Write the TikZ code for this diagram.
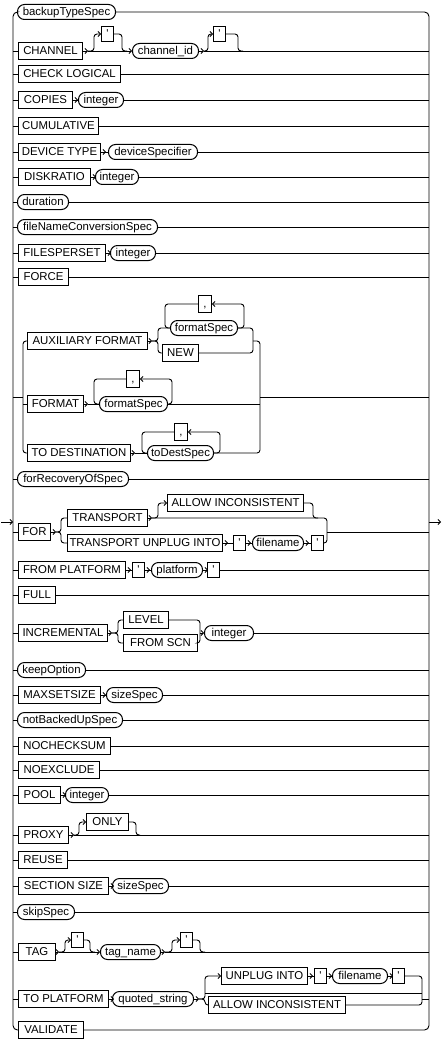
\documentclass[tikz,border=0pt]{standalone}
\usepackage{fontspec}
\newfontfamily\rrfont{Liberation Sans}[Ligatures=ResetAll]
\usetikzlibrary{arrows.meta}
\newcommand\rrf{\rrfont\fontsize{11.4pt}{13pt}\selectfont}
\tikzset{
 ln/.style={line width=0.9pt},
 kw/.style={draw, line width=1pt, minimum height=17pt, inner sep=0pt, anchor=west, font=\rrf, text height=8.2pt, text depth=0.5pt},
 qt/.style={kw, minimum height=15pt, minimum width=12pt},
 cmbox/.style={kw, minimum height=17pt, minimum width=13pt},
 nt/.style={draw, line width=1pt, rounded corners=7pt, minimum height=15pt, inner sep=0pt, anchor=west, font=\rrf, text height=8.2pt, text depth=0.5pt},
 ar/.style={ln, -{Straight Barb[length=2.4pt,width=5pt]}},
 rc/.style={ln, rounded corners=3pt},
 bus/.style={ln, rounded corners=4.5pt},
}
\newcommand\rrto[1]{\draw[ln] (#1.east) -- (#1.east -| RB);}
\newcommand\rrfrom[1]{\draw[ln] (#1.west -| LB) -- (#1.west);}
\newcommand\rrchv[2]{\draw[ln] (#1.east) -- (#2.west); \draw[ar] (#1.east) -- ++(5,0);}
\begin{document}
\begin{tikzpicture}[x=1pt,y=-1pt]
\useasboundingbox (0,0) rectangle (442,1043);
\coordinate (LB) at (13,0);
\coordinate (RB) at (429,0);
\coordinate (start) at (1,522);
\coordinate (finish) at (441,522);
\draw[ar] (start) -- (start -| LB);
\draw[ar] (finish -| RB) -- (finish);

% backupTypeSpec
\node[nt, minimum width=98] (bts) at (17,12) {backupTypeSpec};
% CHANNEL
\node[kw, minimum width=64] (chan) at (18,51) {CHANNEL};
\node[qt] (cq1) at (101,34) {'};
\node[nt, minimum width=66] (chid) at (132,51) {channel\_id};
\node[qt] (cq2) at (213,34) {'};
\coordinate (cj1) at (88,51);
\coordinate (cj2) at (127,51);
\coordinate (cj3) at (204,51);
\coordinate (cj4) at (243,51);
\rrfrom{chan}
\draw[ar] (chan.east) -- (cj1);
\draw[ln] (cj1) -- (cj2);
\draw[ar,rc] (cj1) -| (94,34) -- (cq1.west);
\draw[rc] (cq1.east) -| (122,51) -- (cj2);
\draw[ar] (cj2) -- (chid.west);
\draw[ar] (chid.east) -- (cj3);
\draw[ar,rc] (cj3) -| (208,34) -- (cq2.west);
\draw[rc] (cq2.east) -| (238,51) -- (cj4);
\draw[ln] (cj3) -- (cj3 -| RB);
% CHECK LOGICAL
\node[kw, minimum width=102] (chk) at (18,74) {CHECK LOGICAL};
\rrfrom{chk}\rrto{chk}
% COPIES
\node[kw, minimum width=54] (cop) at (18,100) {COPIES};
\node[nt, minimum width=45] (copi) at (78,100) {integer};
\rrfrom{cop}\rrchv{cop}{copi}\rrto{copi}
% CUMULATIVE
\node[kw, minimum width=80] (cum) at (18,126) {CUMULATIVE};
\rrfrom{cum}\rrto{cum}
% DEVICE TYPE
\node[kw, minimum width=82] (dev) at (18,152) {DEVICE TYPE};
\node[nt, minimum width=89] (devs) at (108,152) {deviceSpecifier};
\rrfrom{dev}\rrchv{dev}{devs}\rrto{devs}
% DISKRATIO
\node[kw, minimum width=72] (dsk) at (18,177) {DISKRATIO};
\node[nt, minimum width=43] (dski) at (95,177) {integer};
\rrfrom{dsk}\rrchv{dsk}{dski}\rrto{dski}
% duration
\node[nt, minimum width=51] (dur) at (17,202) {duration};
\rrfrom{dur}\rrto{dur}
% fileNameConversionSpec
\node[nt, minimum width=140] (fnc) at (17,227) {fileNameConversionSpec};
\rrfrom{fnc}\rrto{fnc}
% FILESPERSET
\node[kw, minimum width=87] (fps) at (18,253) {FILESPERSET};
\node[nt, minimum width=45] (fpsi) at (110,253) {integer};
\rrfrom{fps}\rrchv{fps}{fpsi}\rrto{fpsi}
% FORCE
\node[kw, minimum width=50] (frc) at (18,277) {FORCE};
\rrfrom{frc}\rrto{frc}

% FORMAT group
\node[kw, minimum width=120] (aux) at (27,341) {AUXILIARY FORMAT};
\node[nt, minimum width=67] (afs) at (170,328) {formatSpec};
\node[cmbox] (ac) at (198,304) {,};
\node[kw, minimum width=36] (new) at (162,353) {NEW};
\node[kw, minimum width=56] (fmt) at (27,404) {FORMAT};
\node[nt, minimum width=68] (ffs) at (99,404) {formatSpec};
\node[cmbox] (fc) at (126,379) {,};
\node[kw, minimum width=103] (tod) at (27,453) {TO DESTINATION};
\node[nt, minimum width=66] (tds) at (147,453) {toDestSpec};
\node[cmbox] (tc) at (174,432) {,};
\coordinate (fg) at (23,397);
\coordinate (fgr) at (260,397);
\coordinate (aj) at (152,341);
\coordinate (aj2) at (253,341);
\coordinate (fj) at (88,404);
\coordinate (tj) at (135,453);
\draw[ln] (fg -| LB) -- (fg);
\draw[rc] (aux.west) -| (tod.west -| fg) -- (tod.west);
\draw[ln] (fmt.west -| fg) -- (fmt.west);
\draw[ar] (aux.east) -- (aj);
\draw[rc] (aj) -| (158,328) -- (afs.west);
\draw[rc] (aj) -| (158,353) -- (new.west);
\draw[ar,rc] (afs.east) -| (244,304) -- (ac.east);
\draw[rc] (ac.west) -| (165,328) -- (afs.west);
\draw[rc] (afs.east) -| (253,353) -- (new.east);
\draw[rc] (aj2) -| (tds.east -| fgr) -- (tds.east);
\draw[ar] (fmt.east) -- (fj);
\draw[ln] (fj) -- (ffs.west);
\draw[ar,rc] (ffs.east) -| (172,379) -- (fc.east);
\draw[rc] (fc.west) -| (94,404) -- (ffs.west);
\draw[ln] (ffs.east) -- (ffs.east -| fgr);
\draw[ln] (fgr) -- (fgr -| RB);
\draw[ar] (tod.east) -- (tj);
\draw[ln] (tj) -- (tds.west);
\draw[ar,rc] (tds.east) -| (220,432) -- (tc.east);
\draw[rc] (tc.west) -| (142,453) -- (tds.west);

% forRecoveryOfSpec
\node[nt, minimum width=111] (frs) at (17,479) {forRecoveryOfSpec};
\rrfrom{frs}\rrto{frs}

% FOR group
\node[kw, minimum width=32] (for) at (18,532) {FOR};
\node[kw, minimum width=80] (tr) at (67,518) {TRANSPORT};
\node[kw, minimum width=136] (ai) at (167,503) {ALLOW INCONSISTENT};
\node[kw, minimum width=155] (tui) at (67,543) {TRANSPORT UNPLUG INTO};
\node[qt] (tq1) at (233,543) {'};
\node[nt, minimum width=51] (tfn) at (252,543) {filename};
\node[qt] (tq2) at (311,543) {'};
\coordinate (oj) at (56,532);
\coordinate (tj1) at (152,518);
\coordinate (oj2) at (327,532);
\rrfrom{for}
\draw[ar] (for.east) -- (oj);
\draw[rc] (oj) -| (61,518) -- (tr.west);
\draw[rc] (oj) -| (61,543) -- (tui.west);
\draw[ar] (tr.east) -- (tj1);
\draw[ar,rc] (tj1) -| (158,503) -- (ai.west);
\draw[rc] (ai.east) -| (313,518) -- (318,518);
\draw[rc] (tj1) -| (tq2.east -| oj2) -- (tq2.east);
\rrchv{tui}{tq1}\rrchv{tq1}{tfn}\rrchv{tfn}{tq2}
\draw[ln] (oj2) -- (oj2 -| RB);

% FROM PLATFORM
\node[kw, minimum width=107] (fpl) at (18,570) {FROM PLATFORM};
\node[qt] (pq1) at (132,570) {'};
\node[nt, minimum width=51] (plat) at (151,570) {platform};
\node[qt] (pq2) at (207,570) {'};
\rrfrom{fpl}\rrchv{fpl}{pq1}\rrchv{pq1}{plat}\rrchv{plat}{pq2}\rrto{pq2}
% FULL
\node[kw, minimum width=37] (full) at (18,595) {FULL};
\rrfrom{full}\rrto{full}
% INCREMENTAL
\node[kw, minimum width=89] (inc) at (18,633) {INCREMENTAL};
\node[kw, minimum width=45] (lev) at (123,620) {LEVEL};
\node[kw, minimum width=74] (fscn) at (123,643) {FROM SCN};
\node[nt, minimum width=49] (inci) at (204,633) {integer};
\coordinate (ij) at (112,633);
\coordinate (ij2) at (200,633);
\rrfrom{inc}
\draw[ar] (inc.east) -- (ij);
\draw[rc] (ij) -| (118,620) -- (lev.west);
\draw[rc] (ij) -| (118,643) -- (fscn.west);
\draw[rc] (lev.east) -| (fscn.east -| ij2) -- (fscn.east);
\draw[ar] (ij2) -- (inci.west);
\rrto{inci}
% keepOption
\node[nt, minimum width=68] (keep) at (17,670) {keepOption};
\rrfrom{keep}\rrto{keep}
% MAXSETSIZE
\node[kw, minimum width=82] (mss) at (18,695) {MAXSETSIZE};
\node[nt, minimum width=56] (msss) at (106,695) {sizeSpec};
\rrfrom{mss}\rrchv{mss}{msss}\rrto{msss}
% notBackedUpSpec
\node[nt, minimum width=105] (nbu) at (17,720) {notBackedUpSpec};
\rrfrom{nbu}\rrto{nbu}
% NOCHECKSUM
\node[kw, minimum width=92] (ncs) at (18,746) {NOCHECKSUM};
\rrfrom{ncs}\rrto{ncs}
% NOEXCLUDE
\node[kw, minimum width=81] (nex) at (18,770) {NOEXCLUDE};
\rrfrom{nex}\rrto{nex}
% POOL
\node[kw, minimum width=42] (pool) at (18,795) {POOL};
\node[nt, minimum width=43] (pooli) at (65,795) {integer};
\rrfrom{pool}\rrchv{pool}{pooli}\rrto{pooli}
% PROXY
\node[kw, minimum width=50] (prx) at (18,835) {PROXY};
\node[kw, minimum width=42] (only) at (86,822) {ONLY};
\coordinate (pj) at (74,835);
\rrfrom{prx}
\draw[ar] (prx.east) -- (pj);
\draw[ar,rc] (pj) -| (79,822) -- (only.west);
\draw[rc] (only.east) -| (136,835) -- (140,835);
\draw[ln] (pj) -- (pj -| RB);
% REUSE
\node[kw, minimum width=49] (reu) at (18,860) {REUSE};
\rrfrom{reu}\rrto{reu}
% SECTION SIZE
\node[kw, minimum width=90] (sec) at (18,886) {SECTION SIZE};
\node[nt, minimum width=56] (secs) at (112,886) {sizeSpec};
\rrfrom{sec}\rrchv{sec}{secs}\rrto{secs}
% skipSpec
\node[nt, minimum width=57] (skp) at (17,912) {skipSpec};
\rrfrom{skp}\rrto{skp}
% TAG
\node[kw, minimum width=37] (tag) at (18,952) {TAG};
\node[qt] (gq1) at (71,940) {'};
\node[nt, minimum width=60] (tagn) at (100,952) {tag\_name};
\node[qt] (gq2) at (180,940) {'};
\coordinate (gj1) at (59,952);
\coordinate (gj2) at (95,952);
\coordinate (gj3) at (165,952);
\coordinate (gj4) at (205,952);
\rrfrom{tag}
\draw[ar] (tag.east) -- (gj1);
\draw[ar,rc] (gj1) -| (65,940) -- (gq1.west);
\draw[rc] (gq1.east) -| (90,952) -- (gj2);
\draw[ln] (gj1) -- (gj2);
\draw[ar] (gj2) -- (tagn.west);
\draw[ar] (tagn.east) -- (gj3);
\draw[ar,rc] (gj3) -| (172,940) -- (gq2.west);
\draw[rc] (gq2.east) -| (200,952) -- (gj4);
\draw[ln] (gj3) -- (gj3 -| RB);
% TO PLATFORM
\node[kw, minimum width=90] (tpl) at (18,999) {TO PLATFORM};
\node[nt, minimum width=81] (qs) at (112,999) {quoted\_string};
\node[kw, minimum width=86] (unp) at (221,976) {UNPLUG INTO};
\node[qt] (uq1) at (314,976) {'};
\node[nt, minimum width=55] (ufn) at (332,976) {filename};
\node[qt] (uq2) at (392,976) {'};
\node[kw, minimum width=137] (ai2) at (208,1005) {ALLOW INCONSISTENT};
\coordinate (kj1) at (199,999);
\coordinate (kj2) at (422,999);
\coordinate (kb1) at (205,993);
\coordinate (kb2) at (422,993);
\rrfrom{tpl}\rrchv{tpl}{qs}
\draw[ar] (qs.east) -- (kj1);
\draw[ar,rc] (kj1) -| (205,976) -- (unp.west);
\draw[rc] (kj1) -| (205,1005) -- (ai2.west);
\draw[ln] (kb1) -- (kb2);
\rrchv{unp}{uq1}\rrchv{uq1}{ufn}\rrchv{ufn}{uq2}
\draw[rc] (uq2.east) -| (ai2.east -| kj2) -- (ai2.east);
\draw[ln] (kj2) -- (kj2 -| RB);
% VALIDATE
\node[kw, minimum width=65] (val) at (18,1030) {VALIDATE};

% buses
\draw[bus] (bts.west) -| (val.west -| LB) -- (val.west);
\draw[bus] (bts.east) -| (val.east -| RB) -- (val.east);
\end{tikzpicture}
\end{document}
